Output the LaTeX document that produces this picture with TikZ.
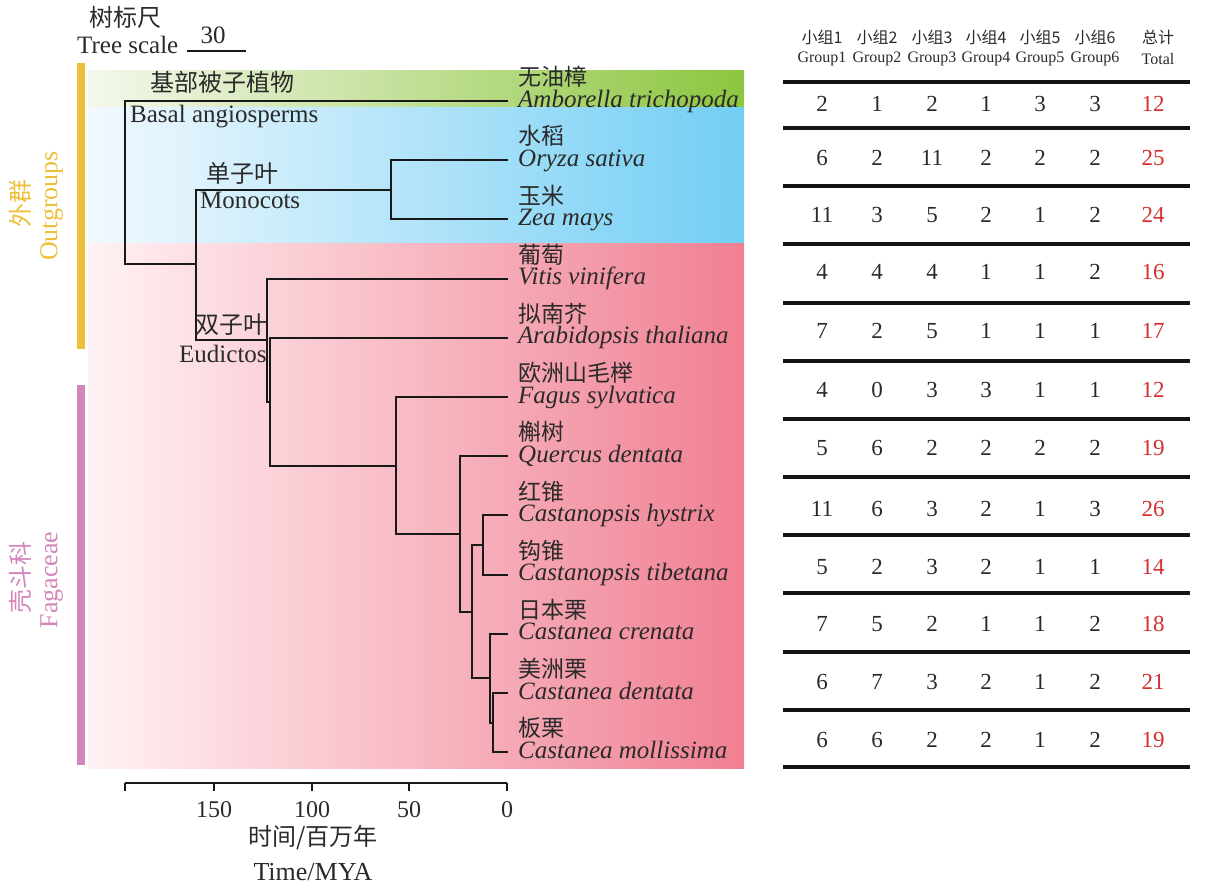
\documentclass[tikz,border=0pt]{standalone}
\usepackage{fontspec}
\setmainfont{Liberation Serif}
\newfontfamily\cjk{Noto Sans CJK SC}
\newcommand{\fsz}[1]{\fontsize{#1}{#1}\selectfont}
\definecolor{outy}{HTML}{EDC03B}
\definecolor{fagp}{HTML}{D486BC}
\definecolor{totr}{HTML}{D22F2F}
\definecolor{txt}{HTML}{2A2A2A}
\begin{document}
\begin{tikzpicture}[x=1pt,y=-1pt,
  branch/.style={line width=2pt, black!90, line cap=rect},
  tipcn/.style={anchor=west, inner sep=0pt, text=txt, font=\cjk\fsz{23}},
  tipla/.style={anchor=base west, inner sep=0pt, text=txt, font=\fsz{25}\itshape},
  cladecn/.style={anchor=west, inner sep=0pt, text=txt, font=\cjk\fsz{24}},
  cladela/.style={anchor=base west, inner sep=0pt, text=txt, font=\fsz{25}},
  hdr/.style={inner sep=0pt, text=txt, font=\fsz{16}},
  hdrcn/.style={inner sep=0pt, text=txt, font=\cjk\fsz{16}},
  num/.style={inner sep=0pt, text=txt, font=\fsz{23}},
  tot/.style={inner sep=0pt, text=totr, font=\fsz{23}},
  rule/.style={line width=4pt, black!92},
  axlab/.style={inner sep=0pt, text=txt, font=\fsz{24}},
  sidelab/.style={rotate=90, align=center, inner sep=0pt, font=\fsz{26}}
]
\useasboundingbox (0,0) rectangle (1212,887);

% background bands
\shade[left color={rgb,255:red,244;green,248;blue,236}, right color={rgb,255:red,141;green,198;blue,63}] (88,70) rectangle (744,107);
\shade[left color={rgb,255:red,242;green,249;blue,254}, right color={rgb,255:red,114;green,206;blue,244}] (88,107) rectangle (744,243);
\shade[left color={rgb,255:red,255;green,242;blue,244}, right color={rgb,255:red,240;green,128;blue,146}] (88,243) rectangle (744,768);

% side bars and labels
\fill[outy] (77,63) rectangle (85,349);
\fill[fagp] (77,385) rectangle (85,765);
\node[sidelab, text=outy] (lout) at (36,206) {{\cjk\fsz{24} 外群}\\[2pt]Outgroups};
\node[sidelab, text=fagp] (lfag) at (36,580) {{\cjk\fsz{24} 壳斗科}\\[2pt]Fagaceae};

% tree scale
\node[anchor=center, inner sep=0pt, text=txt, font=\cjk\fsz{24}] (tsc) at (125,17) {树标尺};
\node[anchor=base west, inner sep=0pt, text=txt, font=\fsz{25}] (tse) at (77,53) {Tree scale};
\coordinate (sa) at (187,51);
\coordinate (sb) at (246,51);
\draw[line width=2.2pt, black!90] (sa) -- (sb);
\node[inner sep=0pt, text=txt, font=\fsz{25}] (s30) at (213,35) {30};

% tips
\foreach \i/\nm in {0/tA,1/tOry,2/tZea,3/tVit,4/tAra,5/tFag,6/tQue,7/tChy,8/tCti,9/tCcr,10/tCde,11/tCmo}{
  \coordinate (\nm) at (507,{101+59.2*\i});
}
% internal nodes
\coordinate (r) at (125,182);
\coordinate (nA) at (196,264);
\coordinate (nMono) at (391,189.6);
\coordinate (nEud) at (267,340);
\coordinate (nAF) at (270,402);
\coordinate (nFg) at (396,466);
\coordinate (nQ) at (460,534);
\coordinate (nCC) at (472,612);
\coordinate (nCsp) at (483,545);
\coordinate (nCst) at (490,678);
\coordinate (nCdm) at (493,722.6);

\draw[branch] (tA) -| (r) |- (nA);
\draw[branch] (nMono) -| (nA) |- (nEud);
\draw[branch] (tOry) -| (nMono) |- (tZea);
\draw[branch] (tVit) -| (nEud) |- (nAF);
\draw[branch] (tAra) -| (nAF) |- (nFg);
\draw[branch] (tFag) -| (nFg) |- (nQ);
\draw[branch] (tQue) -| (nQ) |- (nCC);
\draw[branch] (nCsp) -| (nCC) |- (nCst);
\draw[branch] (tChy) -| (nCsp) |- (tCti);
\draw[branch] (tCcr) -| (nCst) |- (nCdm);
\draw[branch] (tCde) -| (nCdm) |- (tCmo);

% tip labels
\foreach \i/\cn/\la in {0/无油樟/Amborella trichopoda,1/水稻/Oryza sativa,2/玉米/Zea mays,3/葡萄/Vitis vinifera,4/拟南芥/Arabidopsis thaliana,5/欧洲山毛榉/Fagus sylvatica,6/槲树/Quercus dentata,7/红锥/Castanopsis hystrix,8/钩锥/Castanopsis tibetana,9/日本栗/Castanea crenata,10/美洲栗/Castanea dentata,11/板栗/Castanea mollissima}{
  \node[tipcn] (cn\i) at (518,{101+59.2*\i-24}) {\cn};
  \node[tipla] (la\i) at (518,{101+59.2*\i+6}) {\la};
}

% clade labels
\node[cladecn] (c1) at (150,82) {基部被子植物};
\node[cladela] (c2) at (130,122) {Basal angiosperms};
\node[cladecn] (c3) at (206,173) {单子叶};
\node[cladela] (c4) at (200,208) {Monocots};
\node[cladecn] (c5) at (195,325) {双子叶};
\node[cladela] (c6) at (179,362) {Eudictos};

% time axis
\coordinate (ax0) at (125,783);
\coordinate (ax1) at (507,783);
\draw[line width=1.5pt, black!90] (ax0) -- (ax1);
\foreach \x in {125,214,312,409,507}{ \draw[line width=1.5pt, black!90] (\x,783) -- (\x,791); }
\foreach \x/\t in {214/150,312/100,409/50,507/0}{ \node[axlab] (tk\t) at (\x,810) {\t}; }
\node[axlab, font=\cjk\fsz{24}] (axcn) at (313,838) {时间/百万年};
\node[axlab, font=\fsz{26}] (axen) at (313,872) {Time/MYA};

% table header
\foreach \x/\k in {822/1,877/2,932/3,986/4,1040/5,1095/6}{
  \node[hdrcn] (hc\k) at (\x,37) {小组\k};
  \node[hdr] (he\k) at (\x,59) {Group\k};
}
\node[hdrcn] (hc7) at (1158,37) {总计};
\node[hdr] (he7) at (1158,59) {Total};

% table rules
\foreach \y in {82,128,186,244,303,361,419,477,535,593,652,710,767}{
  \draw[rule] (783,\y) -- (1190,\y);
}

% table values
\foreach \y/\a/\b/\c/\d/\e/\f/\t [count=\r] in {
  104/2/1/2/1/3/3/12, 158/6/2/11/2/2/2/25, 215/11/3/5/2/1/2/24,
  272/4/4/4/1/1/2/16, 331/7/2/5/1/1/1/17, 390/4/0/3/3/1/1/12,
  448/5/6/2/2/2/2/19, 509/11/6/3/2/1/3/26, 567/5/2/3/2/1/1/14,
  624/7/5/2/1/1/2/18, 682/6/7/3/2/1/2/21, 740/6/6/2/2/1/2/19}{
  \node[num] (v\r-1) at (822,\y) {\a};
  \node[num] (v\r-2) at (877,\y) {\b};
  \node[num] (v\r-3) at (932,\y) {\c};
  \node[num] (v\r-4) at (986,\y) {\d};
  \node[num] (v\r-5) at (1040,\y) {\e};
  \node[num] (v\r-6) at (1095,\y) {\f};
  \node[tot] (v\r-7) at (1153,\y) {\t};
}
\end{tikzpicture}
\end{document}
